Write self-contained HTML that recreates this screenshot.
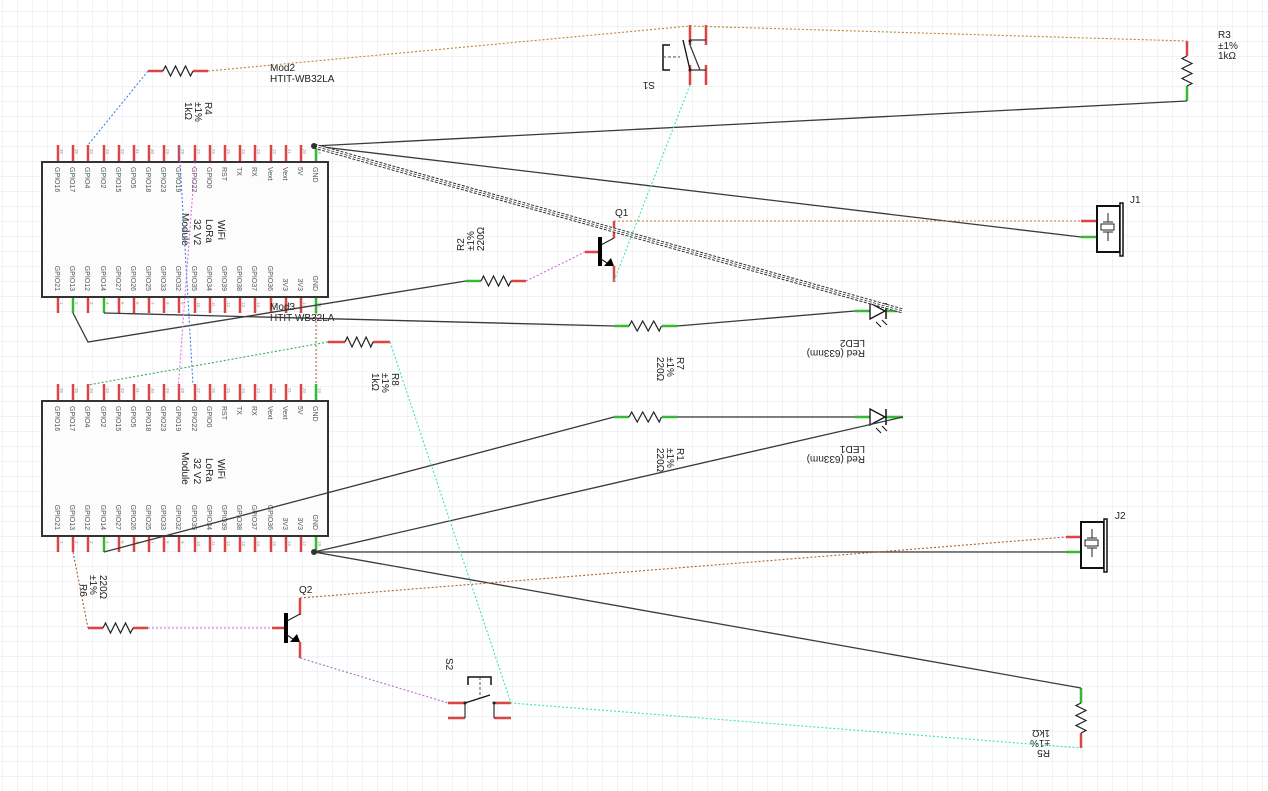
<!DOCTYPE html>
<html><head><meta charset="utf-8"><style>
html,body{margin:0;padding:0;background:#fff;}
svg{display:block;font-family:"Liberation Sans",sans-serif;}
.pn{font-size:7px;fill:#555;}
.nm{font-size:4.5px;fill:#999;}
.lb{font-size:10px;fill:#222;}
.r{stroke:#d44;stroke-width:2.5;}
.g{stroke:#3b3;stroke-width:2.5;}
.w{stroke:#3a3a3a;stroke-width:1.3;fill:none;}
.zz{stroke:#222;stroke-width:1.2;fill:none;}
</style></head><body>
<svg width="1268" height="791" viewBox="0 0 1268 791" xmlns="http://www.w3.org/2000/svg">
<defs>
<pattern id="grid" x="2" y="11" width="15" height="15" patternUnits="userSpaceOnUse">
<path d="M15 0H0V15" fill="none" stroke="#e2e6ec" stroke-width="1"/>
</pattern>
</defs>
<rect width="1268" height="791" fill="url(#grid)"/>

<!-- ===== Module Mod2 ===== -->
<rect x="42" y="162" width="286" height="135" fill="#fcfcfc" stroke="#333" stroke-width="2"/>
<g class="r">
<path d="M58 145V161M73 145V161M88 145V161M104 145V161M119 145V161M134 145V161M149 145V161M164 145V161M179 145V161M195 145V161M210 145V161M225 145V161M240 145V161M255 145V161M271 145V161M286 145V161M301 145V161"/>
<path d="M58 298V313M88 298V313M119 298V313M134 298V313M149 298V313M164 298V313M179 298V313M195 298V313M210 298V313M225 298V313M240 298V313M255 298V313M271 298V313M286 298V313M301 298V313"/>
</g>
<path class="g" d="M316 145V161M73 298V313M104 298V313M316 298V313"/>
<g class="pn">
<text transform="translate(55,167) rotate(90)">GPIO16</text>
<text transform="translate(70,167) rotate(90)">GPIO17</text>
<text transform="translate(85,167) rotate(90)">GPIO4</text>
<text transform="translate(101,167) rotate(90)">GPIO2</text>
<text transform="translate(116,167) rotate(90)">GPIO15</text>
<text transform="translate(131,167) rotate(90)">GPIO5</text>
<text transform="translate(146,167) rotate(90)">GPIO18</text>
<text transform="translate(161,167) rotate(90)">GPIO23</text>
<text transform="translate(176,167) rotate(90)">GPIO19</text>
<text transform="translate(192,167) rotate(90)">GPIO22</text>
<text transform="translate(207,167) rotate(90)">GPIO0</text>
<text transform="translate(222,167) rotate(90)">RST</text>
<text transform="translate(237,167) rotate(90)">TX</text>
<text transform="translate(252,167) rotate(90)">RX</text>
<text transform="translate(268,167) rotate(90)">Vext</text>
<text transform="translate(283,167) rotate(90)">Vext</text>
<text transform="translate(298,167) rotate(90)">5V</text>
<text transform="translate(313,167) rotate(90)">GND</text>
</g>
<g class="pn" text-anchor="end">
<text transform="translate(55,291) rotate(90)">GPIO21</text>
<text transform="translate(70,291) rotate(90)">GPIO13</text>
<text transform="translate(85,291) rotate(90)">GPIO12</text>
<text transform="translate(101,291) rotate(90)">GPIO14</text>
<text transform="translate(116,291) rotate(90)">GPIO27</text>
<text transform="translate(131,291) rotate(90)">GPIO26</text>
<text transform="translate(146,291) rotate(90)">GPIO25</text>
<text transform="translate(161,291) rotate(90)">GPIO33</text>
<text transform="translate(176,291) rotate(90)">GPIO32</text>
<text transform="translate(192,291) rotate(90)">GPIO35</text>
<text transform="translate(207,291) rotate(90)">GPIO34</text>
<text transform="translate(222,291) rotate(90)">GPIO39</text>
<text transform="translate(237,291) rotate(90)">GPIO38</text>
<text transform="translate(252,291) rotate(90)">GPIO37</text>
<text transform="translate(268,291) rotate(90)">GPIO36</text>
<text transform="translate(283,291) rotate(90)">3V3</text>
<text transform="translate(298,291) rotate(90)">3V3</text>
<text transform="translate(313,291) rotate(90)">GND</text>
</g>
<g class="nm">
<text transform="translate(60,149) rotate(90)">36</text><text transform="translate(75,149) rotate(90)">35</text><text transform="translate(90,149) rotate(90)">34</text><text transform="translate(106,149) rotate(90)">33</text><text transform="translate(121,149) rotate(90)">32</text><text transform="translate(136,149) rotate(90)">31</text><text transform="translate(151,149) rotate(90)">30</text><text transform="translate(166,149) rotate(90)">29</text><text transform="translate(181,149) rotate(90)">28</text><text transform="translate(197,149) rotate(90)">27</text><text transform="translate(212,149) rotate(90)">26</text><text transform="translate(227,149) rotate(90)">25</text><text transform="translate(242,149) rotate(90)">24</text><text transform="translate(257,149) rotate(90)">23</text><text transform="translate(273,149) rotate(90)">22</text><text transform="translate(288,149) rotate(90)">21</text><text transform="translate(303,149) rotate(90)">20</text><text transform="translate(318,149) rotate(90)">19</text>
<text transform="translate(60,302) rotate(90)">1</text><text transform="translate(75,302) rotate(90)">2</text><text transform="translate(90,302) rotate(90)">3</text><text transform="translate(106,302) rotate(90)">4</text><text transform="translate(121,302) rotate(90)">5</text><text transform="translate(136,302) rotate(90)">6</text><text transform="translate(151,302) rotate(90)">7</text><text transform="translate(166,302) rotate(90)">8</text><text transform="translate(181,302) rotate(90)">9</text><text transform="translate(197,302) rotate(90)">10</text><text transform="translate(212,302) rotate(90)">11</text><text transform="translate(227,302) rotate(90)">12</text><text transform="translate(242,302) rotate(90)">13</text><text transform="translate(257,302) rotate(90)">14</text><text transform="translate(273,302) rotate(90)">15</text><text transform="translate(288,302) rotate(90)">16</text><text transform="translate(303,302) rotate(90)">17</text><text transform="translate(318,302) rotate(90)">18</text>
</g>
<g class="lb" font-size="9">
<text transform="translate(218,220) rotate(90)">WiFi</text>
<text transform="translate(206,219) rotate(90)">LoRa</text>
<text transform="translate(194,219) rotate(90)">32 V2</text>
<text transform="translate(182,213) rotate(90)">Module</text>
</g>
<text class="lb" x="270" y="71">Mod2</text>
<text class="lb" x="270" y="82">HTIT-WB32LA</text>

<!-- ===== Module Mod3 ===== -->
<rect x="42" y="401" width="286" height="135" fill="#fcfcfc" stroke="#333" stroke-width="2"/>
<g class="r">
<path d="M58 384V400M73 384V400M88 384V400M104 384V400M119 384V400M134 384V400M149 384V400M164 384V400M179 384V400M195 384V400M210 384V400M225 384V400M240 384V400M255 384V400M271 384V400M286 384V400M301 384V400"/>
<path d="M58 537V552M73 537V552M88 537V552M119 537V552M134 537V552M149 537V552M164 537V552M179 537V552M195 537V552M210 537V552M225 537V552M240 537V552M255 537V552M271 537V552M286 537V552M301 537V552"/>
</g>
<path class="g" d="M316 384V400M104 537V552M316 537V552"/>
<g class="pn">
<text transform="translate(55,406) rotate(90)">GPIO16</text>
<text transform="translate(70,406) rotate(90)">GPIO17</text>
<text transform="translate(85,406) rotate(90)">GPIO4</text>
<text transform="translate(101,406) rotate(90)">GPIO2</text>
<text transform="translate(116,406) rotate(90)">GPIO15</text>
<text transform="translate(131,406) rotate(90)">GPIO5</text>
<text transform="translate(146,406) rotate(90)">GPIO18</text>
<text transform="translate(161,406) rotate(90)">GPIO23</text>
<text transform="translate(176,406) rotate(90)">GPIO19</text>
<text transform="translate(192,406) rotate(90)">GPIO22</text>
<text transform="translate(207,406) rotate(90)">GPIO0</text>
<text transform="translate(222,406) rotate(90)">RST</text>
<text transform="translate(237,406) rotate(90)">TX</text>
<text transform="translate(252,406) rotate(90)">RX</text>
<text transform="translate(268,406) rotate(90)">Vext</text>
<text transform="translate(283,406) rotate(90)">Vext</text>
<text transform="translate(298,406) rotate(90)">5V</text>
<text transform="translate(313,406) rotate(90)">GND</text>
</g>
<g class="pn" text-anchor="end">
<text transform="translate(55,530) rotate(90)">GPIO21</text>
<text transform="translate(70,530) rotate(90)">GPIO13</text>
<text transform="translate(85,530) rotate(90)">GPIO12</text>
<text transform="translate(101,530) rotate(90)">GPIO14</text>
<text transform="translate(116,530) rotate(90)">GPIO27</text>
<text transform="translate(131,530) rotate(90)">GPIO26</text>
<text transform="translate(146,530) rotate(90)">GPIO25</text>
<text transform="translate(161,530) rotate(90)">GPIO33</text>
<text transform="translate(176,530) rotate(90)">GPIO32</text>
<text transform="translate(192,530) rotate(90)">GPIO35</text>
<text transform="translate(207,530) rotate(90)">GPIO34</text>
<text transform="translate(222,530) rotate(90)">GPIO39</text>
<text transform="translate(237,530) rotate(90)">GPIO38</text>
<text transform="translate(252,530) rotate(90)">GPIO37</text>
<text transform="translate(268,530) rotate(90)">GPIO36</text>
<text transform="translate(283,530) rotate(90)">3V3</text>
<text transform="translate(298,530) rotate(90)">3V3</text>
<text transform="translate(313,530) rotate(90)">GND</text>
</g>
<g class="nm">
<text transform="translate(60,388) rotate(90)">36</text><text transform="translate(75,388) rotate(90)">35</text><text transform="translate(90,388) rotate(90)">34</text><text transform="translate(106,388) rotate(90)">33</text><text transform="translate(121,388) rotate(90)">32</text><text transform="translate(136,388) rotate(90)">31</text><text transform="translate(151,388) rotate(90)">30</text><text transform="translate(166,388) rotate(90)">29</text><text transform="translate(181,388) rotate(90)">28</text><text transform="translate(197,388) rotate(90)">27</text><text transform="translate(212,388) rotate(90)">26</text><text transform="translate(227,388) rotate(90)">25</text><text transform="translate(242,388) rotate(90)">24</text><text transform="translate(257,388) rotate(90)">23</text><text transform="translate(273,388) rotate(90)">22</text><text transform="translate(288,388) rotate(90)">21</text><text transform="translate(303,388) rotate(90)">20</text><text transform="translate(318,388) rotate(90)">19</text>
<text transform="translate(60,541) rotate(90)">1</text><text transform="translate(75,541) rotate(90)">2</text><text transform="translate(90,541) rotate(90)">3</text><text transform="translate(106,541) rotate(90)">4</text><text transform="translate(121,541) rotate(90)">5</text><text transform="translate(136,541) rotate(90)">6</text><text transform="translate(151,541) rotate(90)">7</text><text transform="translate(166,541) rotate(90)">8</text><text transform="translate(181,541) rotate(90)">9</text><text transform="translate(197,541) rotate(90)">10</text><text transform="translate(212,541) rotate(90)">11</text><text transform="translate(227,541) rotate(90)">12</text><text transform="translate(242,541) rotate(90)">13</text><text transform="translate(257,541) rotate(90)">14</text><text transform="translate(273,541) rotate(90)">15</text><text transform="translate(288,541) rotate(90)">16</text><text transform="translate(303,541) rotate(90)">17</text><text transform="translate(318,541) rotate(90)">18</text>
</g>
<g class="lb" font-size="9">
<text transform="translate(218,459) rotate(90)">WiFi</text>
<text transform="translate(206,458) rotate(90)">LoRa</text>
<text transform="translate(194,458) rotate(90)">32 V2</text>
<text transform="translate(182,452) rotate(90)">Module</text>
</g>
<text class="lb" x="270" y="310">Mod3</text>
<text class="lb" x="270" y="321">HTIT-WB32LA</text>

<!-- ===== Resistors ===== -->
<!-- R4 -->
<path class="r" d="M148 71H163M193 71H208"/>
<path class="zz" d="M163 71l2.5-5l5 10l5-10l5 10l5-10l5 10l2.5-5"/>
<g class="lb" font-size="9"><text transform="translate(205,102) rotate(90)">R4</text><text transform="translate(195,102) rotate(90)">±1%</text><text transform="translate(185,102) rotate(90)">1kΩ</text></g>
<!-- R3 -->
<path class="r" d="M1187 41V56"/><path class="g" d="M1187 86V101"/>
<path class="zz" d="M1187 56l-5 2.5l10 5l-10 5l10 5l-10 5l10 5l-5 2.5"/>
<g class="lb" font-size="9"><text x="1218" y="38">R3</text><text x="1218" y="49">±1%</text><text x="1218" y="59">1kΩ</text></g>
<!-- R2 -->
<path class="g" d="M466 281H481"/><path class="r" d="M511 281H526"/>
<path class="zz" d="M481 281l2.5-5l5 10l5-10l5 10l5-10l5 10l2.5-5"/>
<g class="lb" font-size="9"><text transform="translate(464,251) rotate(-90)">R2</text><text transform="translate(474,251) rotate(-90)">±1%</text><text transform="translate(484,251) rotate(-90)">220Ω</text></g>
<!-- R7 -->
<path class="g" d="M614 326H629M662 326H677"/>
<path class="zz" d="M629 326l2.7-5l5.5 10l5.5-10l5.5 10l5.5-10l5.5 10l2.3-5"/>
<g class="lb" font-size="9"><text transform="translate(677,357) rotate(90)">R7</text><text transform="translate(667,357) rotate(90)">±1%</text><text transform="translate(657,357) rotate(90)">220Ω</text></g>
<!-- R1 -->
<path class="g" d="M614 417H629M662 417H677"/>
<path class="zz" d="M629 417l2.7-5l5.5 10l5.5-10l5.5 10l5.5-10l5.5 10l2.3-5"/>
<g class="lb" font-size="9"><text transform="translate(677,448) rotate(90)">R1</text><text transform="translate(667,448) rotate(90)">±1%</text><text transform="translate(657,448) rotate(90)">220Ω</text></g>
<!-- R8 -->
<path class="r" d="M328 342H345M373 342H390"/>
<path class="zz" d="M345 342l2.3-5l4.7 10l4.7-10l4.7 10l4.7-10l4.7 10l2.2-5"/>
<g class="lb" font-size="9"><text transform="translate(392,373) rotate(90)">R8</text><text transform="translate(382,373) rotate(90)">±1%</text><text transform="translate(372,373) rotate(90)">1kΩ</text></g>
<!-- R6 -->
<path class="r" d="M88 628H103M133 628H148"/>
<path class="zz" d="M103 628l2.5-5l5 10l5-10l5 10l5-10l5 10l2.5-5"/>
<g class="lb" font-size="9"><text transform="translate(80,584) rotate(90)">R6</text><text transform="translate(90,575) rotate(90)">±1%</text><text transform="translate(100,575) rotate(90)">220Ω</text></g>
<!-- R5 -->
<path class="g" d="M1081 688V703"/><path class="r" d="M1081 733V748"/>
<path class="zz" d="M1081 703l-5 2.5l10 5l-10 5l10 5l-10 5l10 5l-5 2.5"/>
<g class="lb" font-size="9"><text transform="translate(1050,750) rotate(180)">R5</text><text transform="translate(1050,740) rotate(180)">±1%</text><text transform="translate(1050,730) rotate(180)">1kΩ</text></g>

<!-- ===== Transistors ===== -->
<path class="r" d="M585 252H600M614 221V238M614 266V282"/>
<path d="M600 237V266" stroke="#000" stroke-width="4"/>
<path d="M601 245L614 238M601 259L610 265" stroke="#222" stroke-width="1.2"/>
<path d="M604 266L614 266L611 258Z" fill="#000"/>
<text class="lb" x="615" y="216">Q1</text>
<path class="r" d="M272 628H287M300 598V615M300 642V658"/>
<path d="M286 613V643" stroke="#000" stroke-width="4"/>
<path d="M287 621L300 614M287 635L296 641" stroke="#222" stroke-width="1.2"/>
<path d="M290 642L300 642L297 634Z" fill="#000"/>
<text class="lb" x="299" y="593">Q2</text>

<!-- ===== Switches ===== -->
<path class="r" d="M690 25V45M706 25V45M690 65V85M706 65V85"/>
<path d="M690 40H706M690 70H706M690 40L690 45M690 45L700 70" stroke="#333" stroke-width="1.2" fill="none"/>
<path d="M683 40L690 70" stroke="#111" stroke-width="1.3"/>
<path d="M670 45H663V70H670" stroke="#111" stroke-width="1.5" fill="none"/>
<path d="M663 57H680" stroke="#555" stroke-width="1" stroke-dasharray="3,2"/>
<circle cx="690" cy="41" r="1.5" fill="#222"/><circle cx="690" cy="70" r="1.5" fill="#222"/>
<text class="lb" transform="translate(655,82) rotate(180)">S1</text>
<path class="r" d="M448 703H465M448 718H465M494 703H511M494 718H511"/>
<path d="M465 703V718M494 703V718" stroke="#333" stroke-width="1.2"/>
<path d="M465 703L490 695" stroke="#111" stroke-width="1.3"/>
<path d="M468 685V677H491V685" stroke="#111" stroke-width="1.5" fill="none"/>
<path d="M480 677V698" stroke="#555" stroke-width="1" stroke-dasharray="3,2"/>
<circle cx="465" cy="703" r="1.5" fill="#222"/><circle cx="494" cy="703" r="1.5" fill="#222"/>
<text class="lb" transform="translate(446,658) rotate(90)">S2</text>

<!-- ===== Connectors J1 J2 ===== -->
<path class="r" d="M1081 221H1097"/><path class="g" d="M1081 237H1097"/>
<rect x="1097" y="206" width="23" height="46" fill="#fff" stroke="#111" stroke-width="2"/>
<rect x="1120" y="203" width="3" height="53" fill="#fff" stroke="#111" stroke-width="1.5"/>
<path d="M1108 213V222M1103 222H1113M1103 232H1113M1108 232V241" stroke="#222" stroke-width="1"/>
<rect x="1101" y="224" width="13" height="6" fill="none" stroke="#222"/>
<text class="lb" x="1130" y="203" font-size="9">J1</text>
<path class="r" d="M1066 537H1081"/><path class="g" d="M1066 552H1081"/>
<rect x="1081" y="522" width="23" height="46" fill="#fff" stroke="#111" stroke-width="2"/>
<rect x="1104" y="519" width="3" height="53" fill="#fff" stroke="#111" stroke-width="1.5"/>
<path d="M1092 529V538M1087 538H1097M1087 548H1097M1092 548V557" stroke="#222" stroke-width="1"/>
<rect x="1085" y="540" width="13" height="6" fill="none" stroke="#222"/>
<text class="lb" x="1115" y="519" font-size="9">J2</text>

<!-- ===== LEDs ===== -->
<path class="g" d="M855 311H870M886 311H903M855 417H870M886 417H903"/>
<path d="M870 303L885 311L870 319Z" fill="#fff" stroke="#111" stroke-width="1.3"/>
<path d="M886 303V319" stroke="#111" stroke-width="1.5"/>
<path d="M876 322l5 5M882 320l5 5" stroke="#111" stroke-width="1"/>
<path d="M870 409L885 417L870 425Z" fill="#fff" stroke="#111" stroke-width="1.3"/>
<path d="M886 409V425" stroke="#111" stroke-width="1.5"/>
<path d="M876 428l5 5M882 426l5 5" stroke="#111" stroke-width="1"/>
<g class="lb" font-size="9">
<text transform="translate(865,340) rotate(180)">LED2</text><text transform="translate(865,350) rotate(180)">Red (633nm)</text>
<text transform="translate(865,446) rotate(180)">LED1</text><text transform="translate(865,456) rotate(180)">Red (633nm)</text>
</g>

<!-- ===== Solid wires ===== -->
<path class="w" d="M314 146L1187 101M314 146L1081 237M73 313L88 342L466 281M104 313L614 326M677 326L855 311M314 552L903 417M314 552L1066 552M314 552L1081 688M104 552L614 417M677 417L855 417"/>
<path d="M314 146L903 311" stroke="#333" stroke-width="5" stroke-dasharray="3,1.5"/>
<path d="M314 146L903 311" stroke="#fff" stroke-width="3"/>
<path d="M314 146L903 311" stroke="#333" stroke-width="0.8" stroke-dasharray="3,1.5"/>
<circle cx="314" cy="146" r="3" fill="#333"/><circle cx="314" cy="552" r="3" fill="#333"/>

<!-- ===== Dotted wires ===== -->
<g fill="none" stroke-width="1.1" stroke-dasharray="2,2">
<path d="M208 71L690 26L1187 41" stroke="#b8892f"/>
<path d="M614 221H1081" stroke="#b87a3a"/>
<path d="M148 71L88 145" stroke="#3b82e0"/>
<path d="M179 145L193 385" stroke="#3b82e0"/>
<path d="M195 162L178 390" stroke="#e070e0"/>
<path d="M526 281L585 252" stroke="#c070d0"/>
<path d="M690 85L614 281" stroke="#40e0c0"/>
<path d="M316 313V385" stroke="#a0704a"/>
<path d="M328 342L88 385" stroke="#30b050"/>
<path d="M390 342L511 703L1081 748" stroke="#40e0c0"/>
<path d="M73 552L88 628" stroke="#a06030"/>
<path d="M148 628H272" stroke="#c070d0"/>
<path d="M300 598L1066 537" stroke="#b06030"/>
<path d="M300 658L448 703" stroke="#b070c0"/>
</g>
</svg>
</body></html>
